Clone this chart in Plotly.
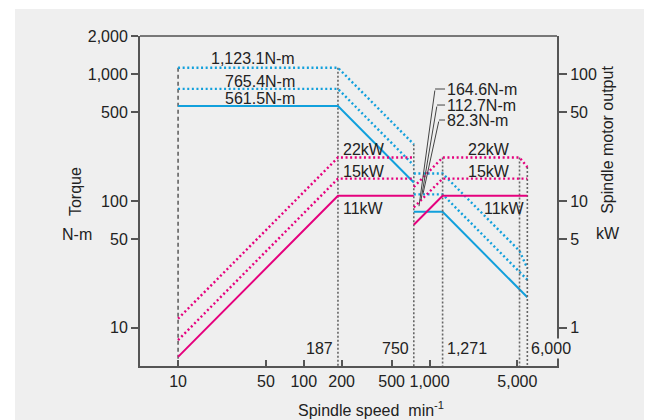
import math
import plotly.graph_objects as go

# ---------------- data ----------------
low_speed = [10, 187, 750]
low_torque_11 = [561.5, 561.5, 140.0]
low_torque_15 = [765.4, 765.4, 190.9]
low_torque_22 = [1123.1, 1123.1, 280.0]
low_power_11 = [0.59, 11, 11]
low_power_15 = [0.80, 15, 15]
low_power_22 = [1.18, 22, 22]

high_speed = [750, 1271, 6000]
high_speed_22 = [750, 1271, 5200, 6000]
high_torque_11 = [82.3, 82.3, 17.4]
high_torque_15 = [112.7, 112.7, 23.9]
high_torque_22 = [164.6, 164.6, 40.4, 29.5]
high_power_11 = [6.5, 11, 11]
high_power_15 = [8.9, 15, 15]
high_power_22 = [12.9, 22, 22, 18.5]

# reference verticals: (speed, top value)
torque_verticals = [(187, 1123.1), (750, 280.0)]
power_verticals = [(1271, 22), (5200, 22), (6000, 18.5)]
start_speed = 10
start_top = 1123.1

speed_marks = [187, 750, 1271, 6000]
speed_mark_labels = ["187", "750", "1,271", "6,000"]

x_ticks = [10, 50, 100, 200, 500, 1000, 5000]
x_ticktext = ["10", "50", "100", "200", "500", "1,000", "5,000"]
y_ticks = [10, 50, 100, 500, 1000, 2000]
y_ticktext = ["10", "50", "100", "500", "1,000", "2,000"]
y2_ticks = [1, 5, 10, 50, 100]
y2_ticktext = ["1", "5", "10", "50", "100"]

torque_labels = ["1,123.1N-m", "765.4N-m", "561.5N-m"]
high_torque_labels = ["164.6N-m", "112.7N-m", "82.3N-m"]
power_labels = ["22kW", "15kW", "11kW"]

# ---------------- style ----------------
BLUE = "#11a0dc"
PINK = "#e5007d"
BG = "#efefef"
TXT = "#222222"
FONT = "Liberation Sans, Arial, sans-serif"
DOT = "2px,2.6px"

fig = go.Figure()

def add(x, y, color, dash, axis="y", width=2.2):
    fig.add_trace(go.Scatter(x=x, y=y, mode="lines", yaxis=axis,
                             line=dict(color=color, width=width, dash=dash),
                             hoverinfo="skip", showlegend=False))

# verticals
add([start_speed, start_speed], [start_top, 5], "#333333", "4px,3px", width=1.2)
for s, top in torque_verticals:
    add([s, s], [top, 5], "#666666", "2px,2px", width=1.6)
for s, top in power_verticals:
    add([s, s], [top, 0.5], "#666666", "2px,2px", width=1.6, axis="y2")

# torque (blue)
add(low_speed, low_torque_22, BLUE, DOT, width=2.4)
add(low_speed, low_torque_15, BLUE, DOT, width=2.4)
add(low_speed, low_torque_11, BLUE, "solid", width=2)
add(high_speed_22, high_torque_22, BLUE, DOT, width=2.4)
add(high_speed, high_torque_15, BLUE, DOT, width=2.4)
add(high_speed, high_torque_11, BLUE, "solid", width=2)

# power (pink)
add(low_speed, low_power_22, PINK, DOT, axis="y2", width=2.4)
add(low_speed, low_power_15, PINK, DOT, axis="y2", width=2.4)
add(low_speed, low_power_11, PINK, "solid", axis="y2", width=2)
add(high_speed_22, high_power_22, PINK, DOT, axis="y2", width=2.4)
add(high_speed, high_power_15, PINK, DOT, axis="y2", width=2.4)
add(high_speed, high_power_11, PINK, "solid", axis="y2", width=2)

L = math.log10
ann = []
tf = dict(family=FONT, size=16, color=TXT)

# low-gear torque labels
for text, val, ys in zip(torque_labels, [low_torque_22[0], low_torque_15[0], low_torque_11[0]], [9, 7, 7]):
    ann.append(dict(x=L(89), y=L(val), xref="x", yref="y", text=text, showarrow=False,
                    xanchor="right", yanchor="middle", yshift=ys, font=tf))

# power labels
for text, val, ys in zip(power_labels, [22, 15, 11], [8, 7, -13]):
    ann.append(dict(x=L(187), y=L(val), xref="x", yref="y2", text=text, showarrow=False,
                    xanchor="left", yanchor="middle", xshift=3, yshift=ys, font=tf))
for text, val, ys, xs, xv in zip(power_labels, [22, 15, 11], [8, 7, -13], [-8, -8, 0], [5200, 5200, 6000]):
    ann.append(dict(x=L(xv), y=L(val), xref="x", yref="y2", text=text, showarrow=False,
                    xanchor="right", yanchor="middle", xshift=xs, yshift=ys, font=tf))

# high-gear torque labels with leaders
leader = [((1329, 764), (1107, 764), (825, 91)),
          ((1329, 571), (1148, 571), (856, 102)),
          ((1329, 435), (1191, 435), (888, 114))]
for text, (tp, el, tg) in zip(high_torque_labels, leader):
    ann.append(dict(x=L(tg[0]), y=L(tg[1]), ax=L(el[0]), ay=L(el[1]), xref="x", yref="y",
                    axref="x", ayref="y", text="", showarrow=True, arrowhead=0,
                    arrowwidth=1, arrowcolor="#444444"))
    ann.append(dict(x=L(el[0]), y=L(el[1]), ax=L(tp[0]), ay=L(tp[1]), xref="x", yref="y",
                    axref="x", ayref="y", text=text, showarrow=True, arrowhead=0,
                    arrowwidth=1, arrowcolor="#444444", xanchor="left", yanchor="middle",
                    font=tf))

# speed marks
for s, t in zip(speed_marks, speed_mark_labels):
    right = s in (187, 750)
    ann.append(dict(x=L(s), y=(366 - 348) / 330, xref="x", yref="paper", text=t, showarrow=False,
                    xanchor="right" if right else "left", yanchor="middle",
                    xshift=-3 if right else 2, font=tf,
                    bgcolor=BG if s == 6000 else None))

# axis titles
ttl = dict(xref="paper", yref="paper", showarrow=False, font=tf, xanchor="center", yanchor="middle")
ann += [
    dict(x=-0.156, y=0.530, text="Torque", textangle=-90, **ttl),
    dict(x=-0.151, y=0.397, text="N-m", **ttl),
    dict(x=1.122, y=0.685, text="Spindle motor output", textangle=-90, **ttl),
    dict(x=1.122, y=0.403, text="kW", **ttl),
    dict(x=0.554, y=-0.130, text="Spindle speed\u00a0\u00a0min<sup>-1</sup>", **ttl),
]

axis_common = dict(type="log", showgrid=False, zeroline=False, showline=True,
                   linecolor="#555555", linewidth=2, tickcolor="#555555",
                   tickfont=dict(family=FONT, size=16, color=TXT))

# page body has an 8px margin, so the figure is shifted by 8px; compensate in margins
fig.update_layout(
    width=652, height=420,
    margin=dict(l=132, r=103, t=28, b=62, pad=0),
    paper_bgcolor="white", plot_bgcolor="rgba(0,0,0,0)",
    showlegend=False,
    xaxis=dict(range=[L(4.98), L(10330)], tickvals=x_ticks, ticktext=x_ticktext,
               ticks="inside", ticklen=6, tickwidth=1.5, **axis_common),
    yaxis=dict(range=[L(5), L(2000)], tickvals=y_ticks, ticktext=y_ticktext,
               ticks="outside", ticklen=7, tickwidth=1.5, **axis_common),
    yaxis2=dict(range=[L(0.5), L(200)], tickvals=y2_ticks, ticktext=y2_ticktext,
                overlaying="y", side="right", anchor="x",
                ticks="outside", ticklen=8, tickwidth=1.5, **axis_common),
    annotations=ann,
    shapes=[
        dict(type="rect", xref="paper", yref="paper", x0=-0.2998, x1=1.25,
             y0=-0.19, y1=1.0818, fillcolor=BG, line=dict(width=0), layer="below"),
        dict(type="line", xref="paper", yref="paper", x0=0, x1=1, y0=1, y1=1,
             line=dict(color="black", width=1)),
    ],
)

fig.write_html("out.html")
